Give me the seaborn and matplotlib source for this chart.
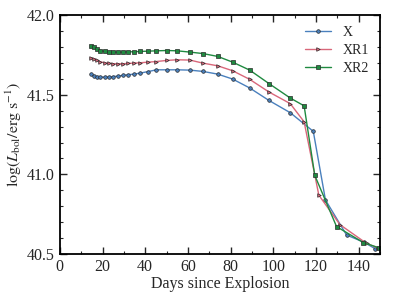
import numpy as np
import pandas as pd
import matplotlib
matplotlib.use("Agg")
import matplotlib.pyplot as plt
import seaborn as sns
from matplotlib.ticker import MultipleLocator

early_days = [14.4, 16, 17.5, 19, 21, 23, 25, 27.3, 29.7, 32, 34.7, 37.5, 41.4,
              45.3, 50.3, 55, 61, 67, 74, 81, 89, 98, 108]

x_days = early_days + [118.8, 124.5, 134.4, 142.5, 147.7]
x_vals = [41.631, 41.619, 41.613, 41.610, 41.610, 41.610, 41.613, 41.617, 41.621,
          41.625, 41.629, 41.635, 41.645, 41.656, 41.656, 41.656, 41.654, 41.646,
          41.629, 41.598, 41.542, 41.464, 41.387,
          41.270, 40.840, 40.620, 40.575, 40.535]

xr1_days = early_days + [114.5, 121.4, 131.3, 143.8, 149.0]
xr1_vals = [41.733, 41.725, 41.715, 41.706, 41.700, 41.696, 41.694, 41.694, 41.694,
            41.696, 41.698, 41.700, 41.704, 41.708, 41.715, 41.719, 41.717, 41.698,
            41.681, 41.650, 41.596, 41.517, 41.444,
            41.330, 40.870, 40.685, 40.567, 40.540]

xr2_days = early_days + [114.5, 119.5, 129.7, 142.2, 149.5]
xr2_vals = [41.806, 41.796, 41.786, 41.777, 41.771, 41.767, 41.767, 41.767, 41.767,
            41.769, 41.769, 41.771, 41.773, 41.775, 41.777, 41.775, 41.767, 41.758,
            41.740, 41.704, 41.654, 41.570, 41.479,
            41.430, 40.994, 40.673, 40.573, 40.540]

names = ["X", "XR1", "XR2"]

df = pd.concat([
    pd.DataFrame({"day": x_days, "L": x_vals, "model": "X"}),
    pd.DataFrame({"day": xr1_days, "L": xr1_vals, "model": "XR1"}),
    pd.DataFrame({"day": xr2_days, "L": xr2_vals, "model": "XR2"}),
], ignore_index=True)

sns.set_style("ticks")
plt.rcParams["font.family"] = ["Liberation Serif", "DejaVu Serif"]
plt.rcParams["mathtext.fontset"] = "stix"
plt.rcParams["xtick.direction"] = "in"
plt.rcParams["ytick.direction"] = "in"

fig = plt.figure(figsize=(3.99, 2.99), dpi=100)
ax = fig.add_axes([0.150, 0.150, 0.802, 0.800])

palette = {"X": "#4a80bd", "XR1": "#d9677a", "XR2": "#1f8a40"}
markers = {"X": "o", "XR1": ">", "XR2": "s"}
sns.lineplot(data=df, x="day", y="L", hue="model", style="model",
             palette=palette, markers=markers, dashes=False, sort=False,
             estimator=None, ax=ax, linewidth=1.0, markersize=2.6,
             markeredgecolor="#2a2a2a", markeredgewidth=0.5)

ax.set_xlim(0, 150)
ax.set_ylim(40.5, 42.0)
ax.xaxis.set_major_locator(MultipleLocator(20))
ax.xaxis.set_minor_locator(MultipleLocator(10))
ax.yaxis.set_major_locator(MultipleLocator(0.5))
ax.yaxis.set_minor_locator(MultipleLocator(0.1))
ax.yaxis.set_major_formatter(matplotlib.ticker.FormatStrFormatter("%.1f"))
ax.tick_params(which="both", top=True, right=True, direction="in", labelsize=11.5)
ax.tick_params(which="major", length=5, width=1.0)
ax.tick_params(which="minor", length=2.5, width=0.8)
for s in ax.spines.values():
    s.set_linewidth(1.3)
    s.set_color("black")

ax.set_xlabel("Days since Explosion", fontsize=11.5, labelpad=1)
ax.set_ylabel(r"$\log(L_{\rm bol}/{\rm erg\ s^{-1}})$", fontsize=11.5, labelpad=2)

leg = ax.legend(loc="upper right", frameon=False, fontsize=10, handlelength=1.9,
                borderaxespad=0.4, labelspacing=0.35, handletextpad=0.8)

fig.savefig("out.png", dpi=100)
